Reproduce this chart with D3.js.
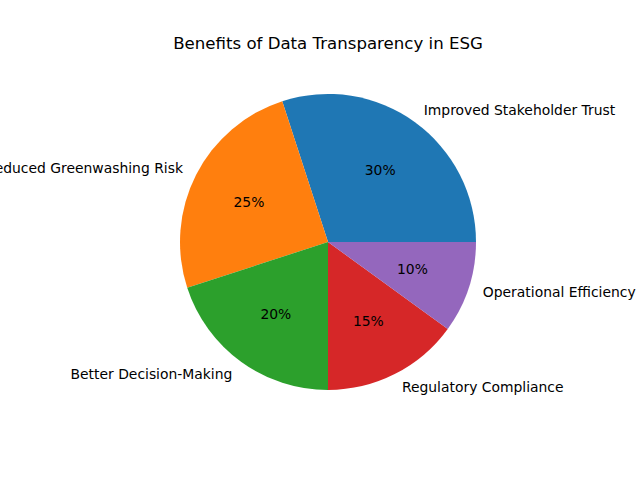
<!DOCTYPE html>
<html><head><meta charset="utf-8">
<script src="https://cdn.jsdelivr.net/npm/d3@7"></script>
<style>body{margin:0;background:#fff}text{font-family:"DejaVu Sans",sans-serif}</style>
</head><body>
<svg id="c" width="640" height="480"></svg>
<script>
const categories=["Improved Stakeholder Trust","Reduced Greenwashing Risk","Better Decision-Making","Regulatory Compliance","Operational Efficiency"];
const values=[30,25,20,15,10];
const colors=["#1f77b4","#ff7f0e","#2ca02c","#d62728","#9467bd"];
const svg=d3.select("#c");
const cx=328,cy=242,r=148;
svg.append("text").attr("x",328).attr("y",49).attr("text-anchor","middle").attr("font-size",16.6).text("Benefits of Data Transparency in ESG");
const total=d3.sum(values);
const g=svg.append("g").attr("transform",`translate(${cx},${cy})`);
const arc=d3.arc().innerRadius(0).outerRadius(r);
let cum=0;
values.forEach((v,i)=>{
  const a1=cum/total*2*Math.PI; cum+=v; const a2=cum/total*2*Math.PI;
  g.append("path").attr("d",arc({startAngle:Math.PI/2-a2,endAngle:Math.PI/2-a1})).attr("fill",colors[i]);
  const m=(a1+a2)/2, x=Math.cos(m), y=-Math.sin(m);
  g.append("text").attr("x",1.1*r*x).attr("y",1.1*r*y).attr("dy","0.35em").attr("font-size",13.9)
   .attr("text-anchor",x>0?"start":"end").text(categories[i]);
  g.append("text").attr("x",0.6*r*x).attr("y",0.6*r*y).attr("dy","0.35em").attr("font-size",13.9)
   .attr("text-anchor","middle").text(Math.round(v/total*100)+"%");
});
</script></body></html>
